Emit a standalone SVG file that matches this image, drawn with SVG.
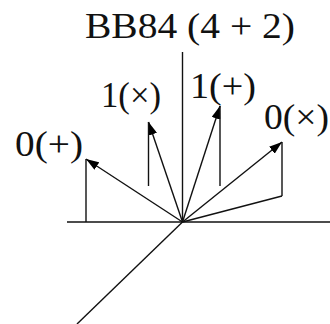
<svg xmlns="http://www.w3.org/2000/svg" width="330" height="324" viewBox="0 0 330 324">
<style>
.ln{stroke:#111;stroke-width:1.4;fill:none}
.lbl{font-family:"Liberation Serif","Times New Roman",serif;font-size:36px;fill:#111}
.ttl{font-family:"Liberation Serif","Times New Roman",serif;font-size:35px;fill:#111}
</style>
<defs>
<marker id="ah" viewBox="0 0 13 9" refX="13" refY="4.5" markerWidth="13" markerHeight="9" markerUnits="userSpaceOnUse" orient="auto">
<path d="M0,0 L13,4.5 L0,9 Z" fill="#000"/>
</marker>
</defs>
<rect width="330" height="324" fill="#fff"/>
<g id="axes">
<line class="ln" x1="67" y1="222" x2="330" y2="222"/>
<line class="ln" x1="182.5" y1="52" x2="182.5" y2="222"/>
<line class="ln" x1="182.5" y1="222" x2="77" y2="324"/>
</g>
<g id="connectors">
<line class="ln" x1="182.5" y1="222" x2="86" y2="159" marker-end="url(#ah)"/>
<line class="ln" x1="86" y1="159" x2="86" y2="222"/>
<line class="ln" x1="182.5" y1="222" x2="148.5" y2="122" marker-end="url(#ah)"/>
<line class="ln" x1="148.5" y1="122" x2="148.5" y2="186"/>
<line class="ln" x1="182.5" y1="222" x2="220" y2="106" marker-end="url(#ah)"/>
<line class="ln" x1="220" y1="106" x2="220" y2="186"/>
<line class="ln" x1="182.5" y1="222" x2="282" y2="142" marker-end="url(#ah)"/>
<line class="ln" x1="282" y1="142" x2="282" y2="196"/>
<line class="ln" x1="282" y1="196" x2="182.5" y2="222"/>
</g>
<g id="title"><text class="ttl" x="85" y="38" textLength="210" lengthAdjust="spacingAndGlyphs">BB84 (4 + 2)</text></g>
<g id="n0plus"><text class="lbl" x="15" y="156" textLength="68" lengthAdjust="spacingAndGlyphs">0(+)</text></g>
<g id="n1times"><text class="lbl" x="101" y="107" textLength="60" lengthAdjust="spacingAndGlyphs">1(×)</text></g>
<g id="n1plus"><text class="lbl" x="190" y="98" textLength="66" lengthAdjust="spacingAndGlyphs">1(+)</text></g>
<g id="n0times"><text class="lbl" x="264" y="129" textLength="65" lengthAdjust="spacingAndGlyphs">0(×)</text></g>
</svg>
